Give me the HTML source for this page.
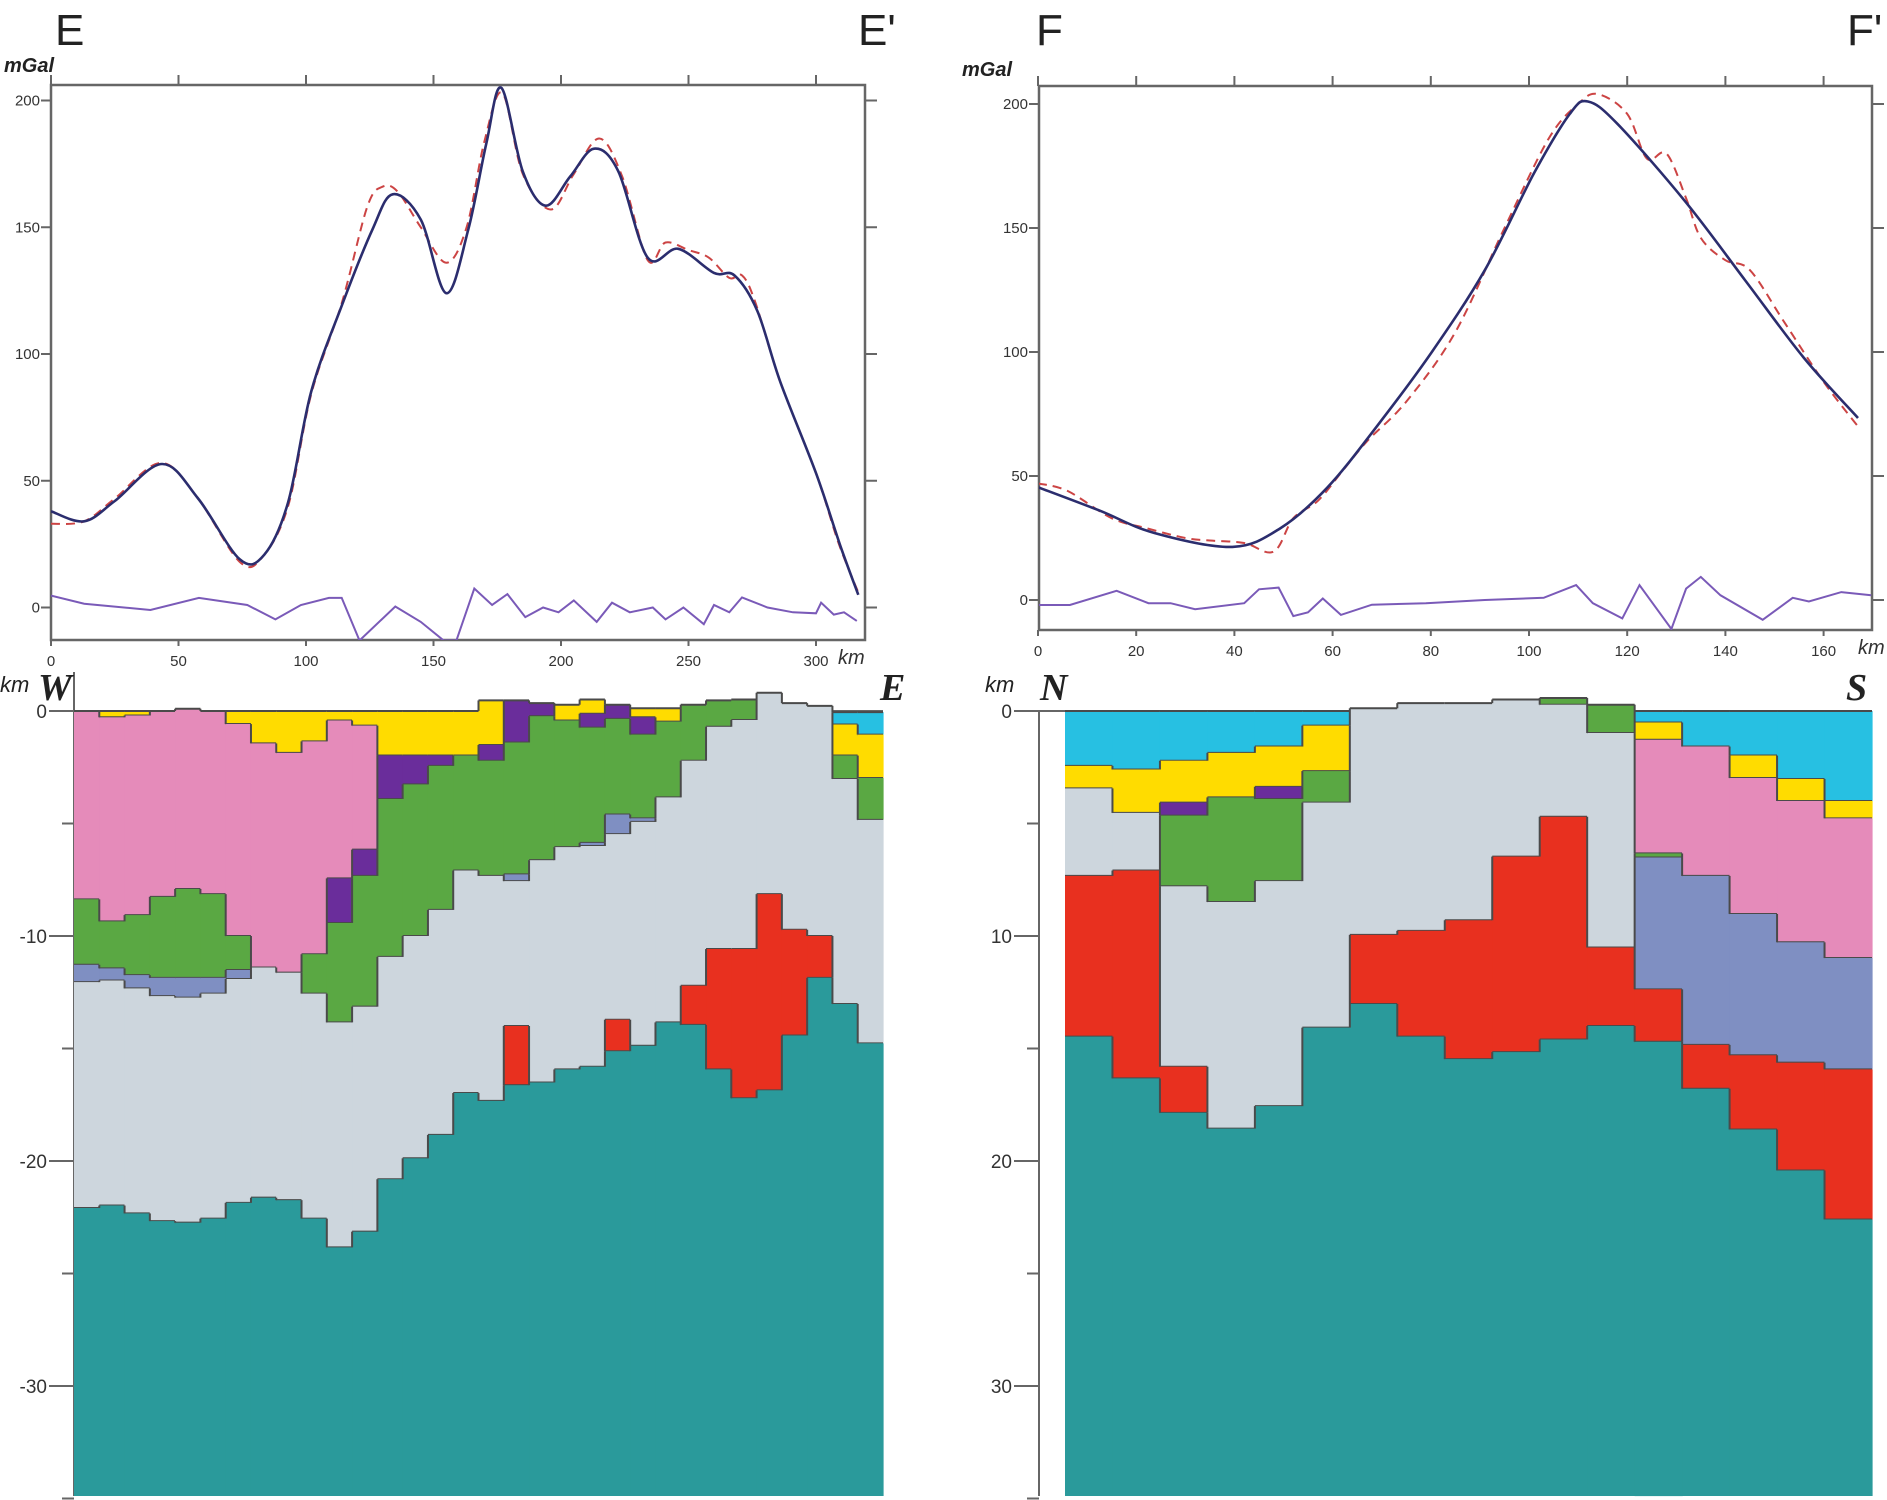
<!DOCTYPE html>
<html><head><meta charset="utf-8"><title>Gravity profiles E-E' and F-F'</title>
<style>
html,body{margin:0;padding:0;background:#fff;}
svg{display:block;font-family:"Liberation Sans",sans-serif;}
.tk{font-size:15px;fill:#333;}
</style></head>
<body>
<svg id="fig" width="1887" height="1500" viewBox="0 0 1887 1500" xmlns="http://www.w3.org/2000/svg">
<defs>
<clipPath id="clipL"><rect x="51" y="85" width="814" height="555"/></clipPath>
<clipPath id="clipR"><rect x="1039" y="86" width="833" height="544"/></clipPath>
</defs>
<text x="55" y="45" font-size="44" fill="#222">E</text>
<text x="858" y="45" font-size="44" fill="#222">E'</text>
<text x="1036" y="45" font-size="44" fill="#222">F</text>
<text x="1847" y="45" font-size="44" fill="#222">F'</text>
<text x="4" y="72" font-size="20" font-weight="bold" font-style="italic" fill="#222">mGal</text>
<text x="962" y="76" font-size="20" font-weight="bold" font-style="italic" fill="#222">mGal</text>
<rect x="51" y="85" width="814" height="555" fill="none" stroke="#666" stroke-width="2.5"/>
<rect x="1039" y="86" width="833" height="544" fill="none" stroke="#666" stroke-width="2.5"/>
<g id="gL"></g>
<g id="gR"></g>
<g id="sL"></g>
<g id="sR"></g>
<text x="0" y="692" font-size="22" font-style="italic" fill="#222">km</text>
<text x="38" y="700" font-size="38" font-weight="bold" font-style="italic" font-family="Liberation Serif, serif" fill="#222">W</text>
<text x="880" y="700" font-size="38" font-weight="bold" font-style="italic" font-family="Liberation Serif, serif" fill="#222">E</text>
<text x="985" y="692" font-size="22" font-style="italic" fill="#222">km</text>
<text x="1040" y="700" font-size="38" font-weight="bold" font-style="italic" font-family="Liberation Serif, serif" fill="#222">N</text>
<text x="1846" y="700" font-size="38" font-weight="bold" font-style="italic" font-family="Liberation Serif, serif" fill="#222">S</text>
</svg>
<script>
// ---------- Gravity data: profile E-E' ----------
const eObsKm = [0,13,25,43.5,57.7,74,83.6,93,102,114,126,134,145,155,163.6,170.7,176.6,185,194,203.6,213,222.5,234,246,260,268,277,286,300,309.5,316.6];
const eObsVal = [38,34,42,56.6,43,19,20.8,41.5,85,119,149,163,153,124,149,183,205,172,158.5,170,181,172,138,141.5,132,131,117,89,53,24.5,5];
const eCalKm = [0,13,25,43,57,74,83,93,102,114,124,130,136,145,155,163,170,177,185,196,205,215,224,234,241,250,258,266,271,276,286,300,309,317];
const eCalVal = [33,34,43,57,44,18,20,40,84,120,158,166,164,150,136,150,184,203,171,157,171,185,170,137,144,141,138,130,131,121,89,53,25,5];
const eResKm = [0,13,39,58,77,88,98,109,114,121,135,145,154,159,166,173,179,186,193,199,205,214,220,227,236,241,248,256,260,266,271,281,291,300,302,307,311,316];
const eResVal = [4.7,1.5,-1,3.8,1,-4.7,1,3.8,3.8,-13,0.4,-5.7,-13,-13,7.5,1,5.3,-3.8,0,-1.9,2.8,-5.7,1.9,-1.9,0,-4.7,0,-6.6,1,-1.9,4,0,-1.9,-2.3,1.9,-2.8,-1.9,-5.3];
const eXTicks = [0,50,100,150,200,250,300];
const eYTicks = [0,50,100,150,200];
// ---------- Gravity data: profile F-F' ----------
const fObsKm = [0,12.6,23.7,39.6,49.4,59,69,80,91,101,108.3,112,118,131.7,144,156,167];
const fObsVal = [45.5,36,27,21.4,29,45.5,70,99.4,133,172,196,201,192,161,129,97.6,73.4];
const fCalKm = [0,6,15,22,30,35,42,48,52,57,62,67,75,85,95,104,110,114,120,124,128,132,135,140,145,152,160,167];
const fCalVal = [47,44,33,29,25,24,23,19.5,33,40,52,64,80,108,150,186,200,204,196,178,180,162,146,137,133,112,88,70];
const fResKm = [0,6.5,16,22.5,27,32,42,45,49,52,55,58,61.7,68,79,91,103,109.6,113,119,122.5,129,132,135,139,147.6,153.7,157,163.6,169.7];
const fResVal = [-2,-2,3.7,-1.3,-1.3,-3.7,-1.3,4.3,5,-6.5,-5,0.6,-6,-1.9,-1.3,0,0.9,6,-1.3,-7.4,6,-11.7,4.6,9.3,1.9,-8,0.9,-0.6,3.2,1.9];
const fXTicks = [0,20,40,60,80,100,120,140,160];
const fYTicks = [0,50,100,150,200];
// ---------- Density section W-E : per column top (km) and layers [code, bottom km] ----------
const wTop = [0,0,0,0,-0.1,0,0,0,0,0,0,0,0,0,0,0,-0.47,-0.47,-0.35,-0.28,-0.51,-0.28,-0.12,-0.12,-0.28,-0.47,-0.51,-0.81,-0.35,-0.23,0.05,0.05];
const wLayers = [
 [["K",8.37],["G",11.28],["B",12.05],["L",22.09]],
 [["Y",0.28],["K",9.35],["G",11.44],["B",11.98],["L",21.98]],
 [["Y",0.2],["K",9.07],["G",11.74],["B",12.33],["L",22.33]],
 [["K",8.26],["G",11.86],["B",12.67],["L",22.67]],
 [["K",7.91],["G",11.86],["B",12.74],["L",22.74]],
 [["K",8.14],["G",11.86],["B",12.56],["L",22.56]],
 [["Y",0.58],["K",10],["G",11.51],["B",11.91],["L",21.86]],
 [["Y",1.44],["K",11.4],["L",21.63]],
 [["Y",1.86],["K",11.63],["L",21.74]],
 [["Y",1.35],["K",10.81],["G",12.56],["L",22.56]],
 [["Y",0.42],["K",7.44],["P",9.42],["G",13.84],["L",23.84]],
 [["Y",0.65],["K",6.16],["P",7.33],["G",13.14],["L",23.14]],
 [["Y",1.98],["P",3.91],["G",10.93],["L",20.81]],
 [["Y",1.98],["P",3.26],["G",9.998],["L",19.88]],
 [["Y",1.98],["P",2.44],["G",8.84],["L",18.84]],
 [["Y",1.98],["G",7.09],["L",16.98]],
 [["Y",1.51],["P",2.21],["G",7.33],["L",17.33]],
 [["P",1.4],["G",7.26],["B",7.56],["L",14],["R",16.63]],
 [["P",0.23],["G",6.63],["L",16.51]],
 [["Y",0.42],["G",6.05],["L",15.93]],
 [["Y",0.12],["P",0.74],["G",5.86],["B",6],["L",15.81]],
 [["P",0.35],["G",4.6],["B",5.47],["L",13.72],["R",15.12]],
 [["Y",0.28],["P",1.05],["G",4.77],["B",4.93],["L",14.88]],
 [["Y",0.47],["G",3.84],["L",13.84]],
 [["G",2.21],["L",12.21],["R",13.95]],
 [["G",0.7],["L",10.58],["R",15.93]],
 [["G",0.4],["L",10.58],["R",17.21]],
 [["L",8.14],["R",16.86]],
 [["L",9.72],["R",14.42]],
 [["L",10],["R",11.86]],
 [["C",0.6],["Y",1.98],["G",3.02],["L",13.02]],
 [["C",1.05],["Y",2.98],["G",4.84],["L",14.77]]
];
// ---------- Density section N-S ----------
const nTop = [0,0,0,0,0,0,-0.12,-0.35,-0.35,-0.51,-0.58,-0.28,0,0,0,0,0];
const nLayers = [
 [["C",2.44],["Y",3.44],["L",7.33],["R",14.47]],
 [["C",2.6],["Y",4.53],["L",7.09],["R",16.33]],
 [["C",2.21],["Y",4.07],["P",4.65],["G",7.79],["L",15.81],["R",17.86]],
 [["C",1.86],["Y",3.84],["G",8.49],["L",18.56]],
 [["C",1.58],["Y",3.37],["P",3.91],["G",7.56],["L",17.56]],
 [["C",0.65],["Y",2.67],["G",4.07],["L",14.07]],
 [["L",9.95],["R",13.02]],
 [["L",9.77],["R",14.47]],
 [["L",9.3],["R",15.47]],
 [["L",6.47],["R",15.16]],
 [["G",-0.28],["L",4.7],["R",14.6]],
 [["G",0.98],["L",10.51],["R",14]],
 [["C",0.51],["Y",1.28],["K",6.33],["G",6.51],["B",12.37],["R",14.7]],
 [["C",1.58],["K",7.33],["B",14.84],["R",16.79]],
 [["C",1.98],["Y",2.98],["K",9.02],["B",15.3],["R",18.6]],
 [["C",3.02],["Y",4],["K",10.28],["B",15.63],["R",20.42]],
 [["C",4],["Y",4.77],["K",10.98],["B",15.93],["R",22.6]]
];
const depthTicks = [0,10,20,30];
const COLORS = {Y:"#ffdc00",P:"#6a2d9b",K:"#e58bba",G:"#5aa843",B:"#7f8fc2",L:"#cdd6dd",R:"#e8301f",T:"#2a9a9b",C:"#27c0e2"};
const LAYERNAMES = {Y:"yellow",P:"purple",K:"pink",G:"green",B:"blue-grey",L:"light-grey",R:"red",T:"teal",C:"cyan"};
const NS = "http://www.w3.org/2000/svg";
function mk(tag, parent){ const e=document.createElementNS(NS,tag); parent.appendChild(e); return e; }

function smoothPath(pts){
  let d = "M"+pts[0][0].toFixed(1)+","+pts[0][1].toFixed(1);
  for(let i=0;i<pts.length-1;i++){
    const p0=pts[Math.max(0,i-1)], p1=pts[i], p2=pts[i+1], p3=pts[Math.min(pts.length-1,i+2)];
    const c1=[p1[0]+(p2[0]-p0[0])/6, p1[1]+(p2[1]-p0[1])/6];
    const c2=[p2[0]-(p3[0]-p1[0])/6, p2[1]-(p3[1]-p1[1])/6];
    d += " C"+c1[0].toFixed(1)+","+c1[1].toFixed(1)+" "+c2[0].toFixed(1)+","+c2[1].toFixed(1)+" "+p2[0].toFixed(1)+","+p2[1].toFixed(1);
  }
  return d;
}

function gravity(g, cfg){
  const xs = k => cfg.x0 + k*cfg.kx;
  const ys = v => cfg.y0 - v*cfg.ky;
  // ticks
  cfg.xTicks.forEach(t=>{
    const l=mk("line",g); l.setAttribute("x1",xs(t)); l.setAttribute("x2",xs(t)); l.setAttribute("y1",cfg.top-10); l.setAttribute("y2",cfg.top); l.setAttribute("stroke","#666"); l.setAttribute("stroke-width","2");
    
    
    const l2=mk("line",g); l2.setAttribute("x1",xs(t)); l2.setAttribute("x2",xs(t)); l2.setAttribute("y1",cfg.bottom); l2.setAttribute("y2",cfg.bottom+6); l2.setAttribute("stroke","#666"); l2.setAttribute("stroke-width","2");
    
    
    const tx=mk("text",g); tx.textContent=t; tx.setAttribute("x",xs(t)); tx.setAttribute("y",cfg.bottom+26); tx.setAttribute("text-anchor","middle"); tx.setAttribute("class","tk");
    
    
  });
  cfg.yTicks.forEach(t=>{
    const l=mk("line",g); l.setAttribute("x1",cfg.left-10); l.setAttribute("x2",cfg.left); l.setAttribute("y1",ys(t)); l.setAttribute("y2",ys(t)); l.setAttribute("stroke","#666"); l.setAttribute("stroke-width","2");
    
    
    const r=mk("line",g); r.setAttribute("x1",cfg.right); r.setAttribute("x2",cfg.right+12); r.setAttribute("y1",ys(t)); r.setAttribute("y2",ys(t)); r.setAttribute("stroke","#666"); r.setAttribute("stroke-width","2");
    
    
    const tx=mk("text",g); tx.textContent=t; tx.setAttribute("x",cfg.left-11); tx.setAttribute("y",ys(t)+5); tx.setAttribute("text-anchor","end"); tx.setAttribute("class","tk"); tx.setAttribute("font-size","14");
    
    
  });
  const km=mk("text",g); km.textContent="km"; km.setAttribute("x",cfg.kmX); km.setAttribute("y",cfg.bottom+24); km.setAttribute("font-size","20"); km.setAttribute("font-style","italic"); km.setAttribute("fill","#333");
  
  
  const cg=mk("g",g); cg.setAttribute("clip-path","url(#"+cfg.clip+")");
  
  
  const res=mk("polyline",cg); res.setAttribute("points", cfg.resKm.map((k,i)=>xs(k).toFixed(1)+","+ys(cfg.resVal[i]).toFixed(1)).join(" "));
  res.setAttribute("fill","none"); res.setAttribute("stroke","#7a5ab8"); res.setAttribute("stroke-width","2");
  
  
  const cal=mk("path",cg); cal.setAttribute("d", smoothPath(cfg.calKm.map((k,i)=>[xs(k),ys(cfg.calVal[i])])));
  cal.setAttribute("fill","none"); cal.setAttribute("stroke","#cc4444"); cal.setAttribute("stroke-width","2"); cal.setAttribute("stroke-dasharray","9,6");
  
  
  const obs=mk("path",cg); obs.setAttribute("d", smoothPath(cfg.obsKm.map((k,i)=>[xs(k),ys(cfg.obsVal[i])])));
  obs.setAttribute("fill","none"); obs.setAttribute("stroke","#2b2d6e"); obs.setAttribute("stroke-width","2.6");
  
  
}

gravity(document.getElementById("gL"), {x0:51,kx:2.55,y0:607.5,ky:2.535,left:51,right:865,top:85,bottom:640,kmX:838,clip:"clipL",
  xTicks:eXTicks,yTicks:eYTicks,obsKm:eObsKm,obsVal:eObsVal,calKm:eCalKm,calVal:eCalVal,resKm:eResKm,resVal:eResVal});
gravity(document.getElementById("gR"), {x0:1038,kx:4.91,y0:600,ky:2.48,left:1039,right:1872,top:86,bottom:630,kmX:1858,clip:"clipR",
  xTicks:fXTicks,yTicks:fYTicks,obsKm:fObsKm,obsVal:fObsVal,calKm:fCalKm,calVal:fCalVal,resKm:fResKm,resVal:fResVal});

function codeAt(layers, top, d){
  if(d<top) return null;
  for(const [c,b] of layers){ if(d<b) return c; }
  return "T";
}
function section(g, cfg){
  const n = cfg.layers.length, w=(cfg.right-cfg.left)/n;
  const ys = d => cfg.y0 + d*cfg.kd;
  const maxD = (cfg.bottom-cfg.y0)/cfg.kd;
  // axis
  const ax=mk("line",g); ax.setAttribute("x1",cfg.axisX); ax.setAttribute("x2",cfg.axisX); ax.setAttribute("y1",cfg.axisTop); ax.setAttribute("y2",cfg.bottom); ax.setAttribute("stroke","#666"); ax.setAttribute("stroke-width","2");
  
  
  const zl=mk("line",g); zl.setAttribute("x1",cfg.axisX-25); zl.setAttribute("x2",cfg.right); zl.setAttribute("y1",ys(0)); zl.setAttribute("y2",ys(0)); zl.setAttribute("stroke","#666"); zl.setAttribute("stroke-width","2");
  
  
  for(let i=0;i<n;i++){
    const x=cfg.left+i*w;
    let cur=cfg.top[i];
    const all=cfg.layers[i].concat([["T",maxD]]);
    all.forEach(([c,b])=>{
      const r=mk("rect",g); r.setAttribute("x",x.toFixed(2)); r.setAttribute("width",(w+0.6).toFixed(2));
      r.setAttribute("y",ys(cur).toFixed(1)); r.setAttribute("height",Math.max(0,ys(b)-ys(cur)).toFixed(1)); r.setAttribute("fill",COLORS[c]);
      
      
      if(b<maxD){
        const l=mk("line",g); l.setAttribute("x1",x); l.setAttribute("x2",x+w); l.setAttribute("y1",ys(b)); l.setAttribute("y2",ys(b)); l.setAttribute("stroke","#4a4a4a"); l.setAttribute("stroke-width","2");
        
        
      }
      cur=b;
    });
    const tl=mk("line",g); tl.setAttribute("x1",x); tl.setAttribute("x2",x+w); tl.setAttribute("y1",ys(cfg.top[i])); tl.setAttribute("y2",ys(cfg.top[i])); tl.setAttribute("stroke","#4a4a4a"); tl.setAttribute("stroke-width","2");
    
    
  }
  // vertical boundaries between columns
  for(let i=0;i<n-1;i++){
    const x=cfg.left+(i+1)*w;
    const A=cfg.layers[i], B=cfg.layers[i+1];
    let pts=[cfg.top[i],cfg.top[i+1]].concat(A.map(a=>a[1]),B.map(b=>b[1]),[maxD]);
    pts=[...new Set(pts)].sort((a,b)=>a-b);
    for(let j=0;j<pts.length-1;j++){
      const m=(pts[j]+pts[j+1])/2;
      if(codeAt(A,cfg.top[i],m)!==codeAt(B,cfg.top[i+1],m)){
        const l=mk("line",g); l.setAttribute("x1",x); l.setAttribute("x2",x); l.setAttribute("y1",ys(pts[j])); l.setAttribute("y2",ys(pts[j+1])); l.setAttribute("stroke","#4a4a4a"); l.setAttribute("stroke-width","2");
        
        
      }
    }
  }
  depthTicks.forEach(t=>{
    const l=mk("line",g); l.setAttribute("x1",cfg.axisX-25); l.setAttribute("x2",cfg.axisX); l.setAttribute("y1",ys(t)); l.setAttribute("y2",ys(t)); l.setAttribute("stroke","#666"); l.setAttribute("stroke-width","2");
    
    
    const m=mk("line",g); m.setAttribute("x1",cfg.axisX-12); m.setAttribute("x2",cfg.axisX); m.setAttribute("y1",ys(t+5)); m.setAttribute("y2",ys(t+5)); m.setAttribute("stroke","#666"); m.setAttribute("stroke-width","2");
    
    
    const tx=mk("text",g); tx.textContent=(t===0?"0":cfg.neg+t); tx.setAttribute("x",cfg.axisX-27); tx.setAttribute("y",ys(t)+7); tx.setAttribute("text-anchor","end"); tx.setAttribute("font-size","19"); tx.setAttribute("fill","#333");
    
    
  });
}
section(document.getElementById("sL"), {left:74,right:883,y0:711,kd:22.5,bottom:1496,axisX:74,axisTop:672,neg:"-",top:wTop,layers:wLayers});
section(document.getElementById("sR"), {left:1065,right:1872,y0:711,kd:22.5,bottom:1496,axisX:1039,axisTop:711,neg:"",top:nTop,layers:nLayers});
</script>
</body></html>
